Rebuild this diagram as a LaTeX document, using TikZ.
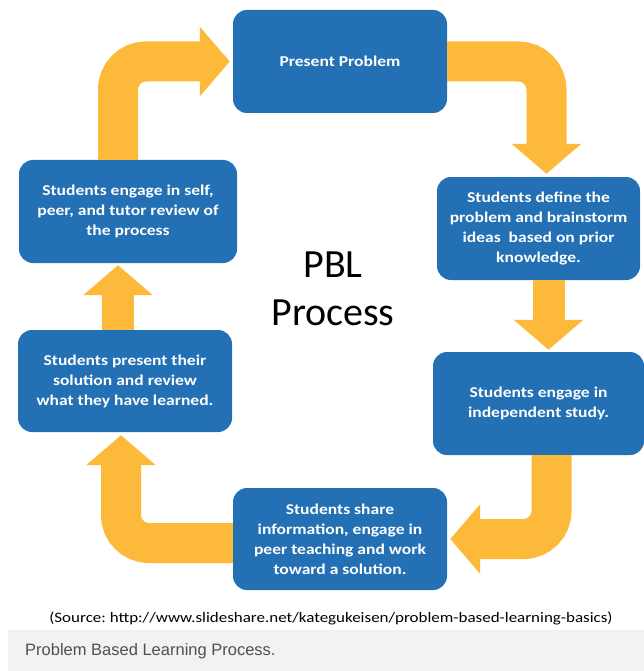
\documentclass[tikz,border=0pt]{standalone}
\usepackage{fontspec}
\setmainfont{Carlito}
\newfontfamily\boxfont[FakeStretch=1.17]{Carlito}
\newfontfamily\captionfont{Liberation Sans}
\usetikzlibrary{arrows.meta}
\definecolor{boxblue}{RGB}{36,112,180}
\definecolor{arrowyellow}{RGB}{253,185,58}
\definecolor{bandgrey}{RGB}{242,242,242}
\definecolor{captiongrey}{RGB}{80,80,80}
\frenchspacing

\begin{document}
\begin{tikzpicture}[x=1pt,y=-1pt,
    stage/.style={fill=boxblue, rounded corners=14pt, text=white, align=center,
      font=\boxfont\bfseries\fontsize{15}{20}\selectfont, inner sep=0pt,
      minimum height=103pt},
    flow/.style={draw=arrowyellow, line width=40pt, rounded corners=28pt,
      -{Triangle[width=68pt,length=30pt]}, shorten >=3pt},
    hop/.style={flow, line width=32pt, shorten >=2pt}]
  \useasboundingbox (0,0) rectangle (644,671);
  % the six stages, clockwise from the top
  \node[stage, minimum width=214pt] (present) at (340,61.5) {Present Problem};
  \node[stage, minimum width=203pt] (define) at (538.5,228.5)
    {Students define the\\problem and brainstorm\\ideas\ \ based on prior\\knowledge.};
  \node[stage, minimum width=211pt] (study) at (538.5,403.5)
    {Students engage in\\independent study.};
  \node[stage, minimum width=214pt, minimum height=102pt] (share) at (340,539)
    {Students share\\information, engage in\\peer teaching and work\\toward a solution.};
  \node[stage, minimum width=214pt, minimum height=102pt] (solution) at (125,381)
    {Students present their\\solution and review\\what they have learned.};
  \node[stage, minimum width=218pt] (review) at (128,211.5)
    {Students engage in self,\\peer, and tutor review of\\the process};
  \node[font=\fontsize{40}{48}\selectfont, align=center] (title) at (333,289)
    {PBL\\Process};
  % block arrows
  \draw[flow] ([xshift=-10pt]review.north) |- (present.west);
  \draw[flow] (present.east) -| ([xshift=8pt]define.north);
  \draw[hop] ([xshift=10pt]define.south) -- ([xshift=10pt]study.north);
  \draw[flow] ([xshift=13pt]study.south) |- (share.east);
  \draw[flow] ([yshift=-4pt]share.west) -| ([xshift=-4pt]solution.south);
  \draw[hop] ([xshift=-7pt]solution.north) -- ([xshift=-7pt]solution.north |- review.south);
  % source line and caption band
  \node[font=\boxfont\fontsize{14.5}{17}\selectfont] (source) at (331,618)
    {(Source: http://www.slideshare.net/kategukeisen/problem-based-learning-basics)};
  \fill[bandgrey] (8,630) rectangle (644,671);
  \node[anchor=west, text=captiongrey, inner sep=0pt,
    font=\captionfont\fontsize{16.5}{18}\selectfont]
    (caption) at (25,651) {Problem Based Learning Process.};
\end{tikzpicture}
\end{document}
